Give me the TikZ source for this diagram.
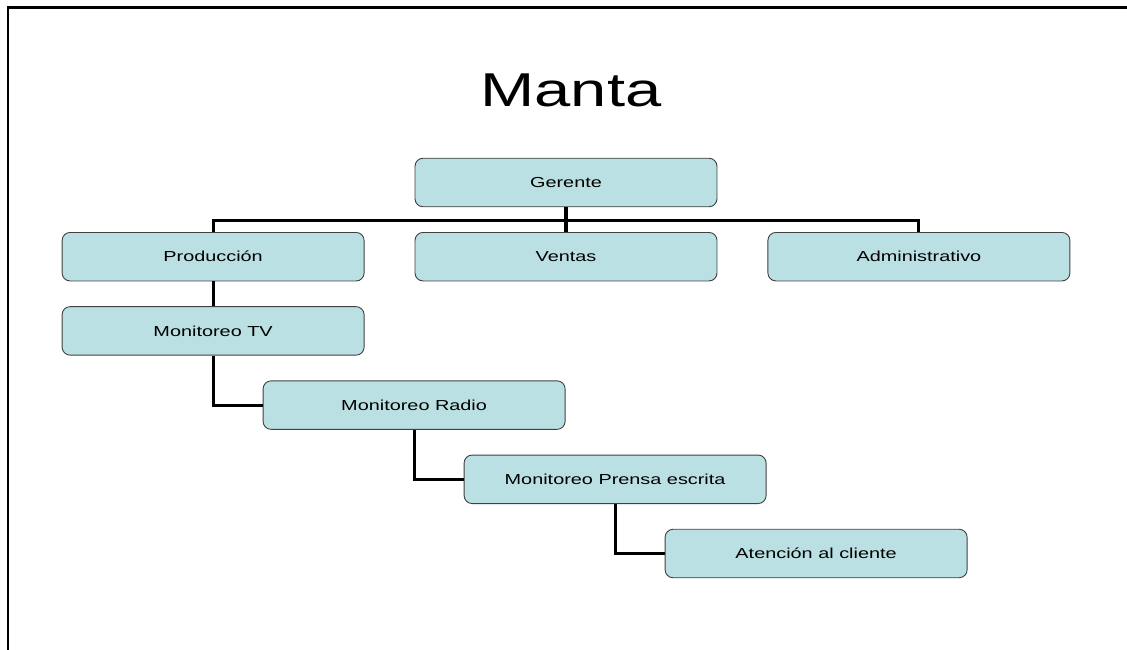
\documentclass[tikz,border=0pt]{standalone}
\usepackage{fontspec}
\setmainfont{Liberation Sans}[FakeStretch=1.37]
\usepackage{tikz}
\usetikzlibrary{positioning}

\definecolor{cajaazul}{RGB}{187,224,227}
\definecolor{bordecaja}{RGB}{64,64,64}

\begin{document}
\begin{tikzpicture}[x=1pt, y=-1pt, node distance=24.8pt,
    box/.style = {shape=rectangle, rounded corners=8pt, draw=bordecaja, line width=0.9pt,
                  fill=cajaazul, minimum width=302pt, minimum height=48.5pt, inner sep=0pt,
                  font=\fontsize{14.5}{17}\selectfont},
    link/.style = {line width=3.1pt, to path={-| (\tikztotarget)}},
    frame/.style = {line width=2.4pt}]
  \useasboundingbox (0,0) rectangle (1127,650);
  \draw[frame] (8,650) -- (8,7.5) -- (1127,7.5);

  \node (titulo) [anchor=base, font=\fontsize{47.5}{56}\selectfont] at (571,107) {Manta};

  \node (ger) [box] at (566,182.5) {Gerente};
  \node (vent) [box, below=of ger] {Ventas} edge [line width=3.1pt] (ger);
  \node (prod) [box, left=50pt of vent] {Producción};
  \node (adm) [box, right=50pt of vent] {Administrativo};
  \draw[line width=3.1pt] (prod.north) -- ++(0,-11.5) -| (adm.north);

  \node (tv) [box, below=of prod] {Monitoreo TV} edge [line width=3.1pt] (prod);
  \node (radio) [box, below=of tv, xshift=201pt] {Monitoreo Radio} edge [link] (tv.south);
  \node (prensa) [box, below=of radio, xshift=201pt] {Monitoreo Prensa escrita} edge [link] (radio.south);
  \node (aten) [box, below=of prensa, xshift=201pt] {Atención al cliente} edge [link] (prensa.south);

\end{tikzpicture}
\end{document}
